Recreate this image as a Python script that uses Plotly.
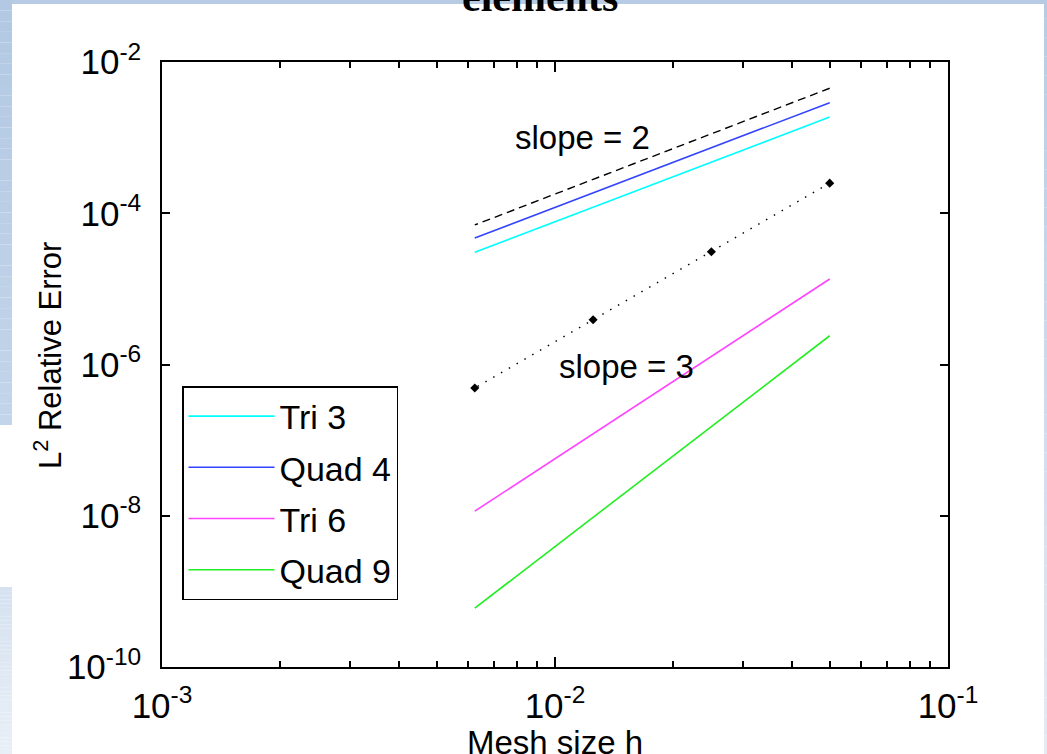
import plotly.graph_objects as go
import numpy as np

# ---- data ----
h = [0.05, 0.025, 0.0125, 0.00625]
ref_slope2 = [4.5e-3, 1.13e-3, 2.8e-4, 7.0e-5]
quad4 = [2.9e-3, 7.3e-4, 1.85e-4, 4.7e-5]
tri3 = [1.87e-3, 4.7e-4, 1.2e-4, 3.05e-5]
ref_slope3 = [2.5e-4, 3.1e-5, 3.9e-6, 4.9e-7]
tri6 = [1.35e-5, 1.28e-6, 1.21e-7, 1.15e-8]
quad9 = [2.4e-6, 1.5e-7, 9.5e-9, 6.0e-10]

x_tickvals = [1e-3, 1e-2, 1e-1]
x_ticktext = ["10<sup>-3</sup>", "10<sup>-2</sup>", "10<sup>-1</sup>"]
y_tickvals = [1e-10, 1e-8, 1e-6, 1e-4, 1e-2]
y_ticktext = ["10<sup>-10</sup>", "10<sup>-8</sup>", "10<sup>-6</sup>", "10<sup>-4</sup>", "10<sup>-2</sup>"]
x_minor = [m * 10.0 ** e for e in (-3, -2) for m in range(2, 10)]

W, H = 1047, 754
L, R, T, B = 162, 99, 62, 87
PW, PH = W - L - R, H - T - B

def px(x):
    return (x - L) / PW

def py(y):
    return (H - B - y) / PH

FONT = "Liberation Sans, Arial, Helvetica, sans-serif"

fig = go.Figure()
# reference lines (not in legend)
fig.add_trace(go.Scatter(x=h, y=ref_slope2, mode="lines", showlegend=False,
                         line=dict(color="black", width=1.4, dash="8px,5px")))
fig.add_trace(go.Scatter(x=h, y=ref_slope3, mode="lines+markers", showlegend=False,
                         line=dict(color="black", width=1.4, dash="1.5px,7.5px"),
                         marker=dict(symbol="diamond", size=7, color="black")))
series = [("Tri 3", tri3, "#00ffff"), ("Quad 4", quad4, "#3344ff"),
          ("Tri 6", tri6, "#ff44ff"), ("Quad 9", quad9, "#22ee22")]
for i, (name, vals, col) in enumerate(series):
    fig.add_trace(go.Scatter(x=h, y=vals, mode="lines", name=name,
                             legendgroup=f"g{i}",
                             line=dict(color=col, width=1.6)))

# background decoration strips (slide background)
shapes = []
def band(x0, x1, y0, y1, c0, c1, n=40):
    cs0 = np.array([int(c0[i:i + 2], 16) for i in (1, 3, 5)])
    cs1 = np.array([int(c1[i:i + 2], 16) for i in (1, 3, 5)])
    for k in range(n):
        t = k / max(n - 1, 1)
        c = (cs0 * (1 - t) + cs1 * t).astype(int)
        ya = y0 + (y1 - y0) * k / n
        yb = y0 + (y1 - y0) * (k + 1) / n
        shapes.append(dict(type="rect", xref="paper", yref="paper", layer="below",
                           x0=px(x0), x1=px(x1), y0=py(ya), y1=py(yb),
                           fillcolor="#%02x%02x%02x" % tuple(c), line=dict(width=0)))
band(0, W, 0, 4, "#b7cce4", "#b7cce4", n=1)
band(0, 12, 0, 425, "#b3c9e3", "#c3d5ea")
band(0, 12, 587, H, "#d6e2f0", "#e9eff7")
band(1044, W, 0, H, "#b7cce4", "#e3ebf5")

axis_common = dict(showline=True, linecolor="black", linewidth=1.5, mirror="ticks",
                   ticks="inside", tickcolor="black", tickwidth=1.5, showgrid=False,
                   zeroline=False, automargin=False,
                   tickfont=dict(family=FONT, size=35, color="black"))

fig.update_layout(
    width=W, height=H,
    margin=dict(l=L, r=R, t=T, b=B, pad=0),
    paper_bgcolor="white", plot_bgcolor="white",
    showlegend=True,
    shapes=shapes,
    xaxis=dict(type="log", range=[-3, -1], tickmode="array", tickvals=x_tickvals,
               ticktext=x_ticktext, ticklen=10, ticklabelstandoff=7,
               minor=dict(tickmode="array", tickvals=x_minor, ticks="inside", ticklen=6,
                          tickcolor="black", tickwidth=1.5, showgrid=False),
               **axis_common),
    yaxis=dict(type="log", range=[-10, -2], tickmode="array", tickvals=y_tickvals,
               ticktext=y_ticktext, ticklen=8, ticklabelstandoff=12,
               **axis_common),
    legend=dict(x=px(182), y=py(386), xanchor="left", yanchor="top",
                bgcolor="white", bordercolor="black", borderwidth=1.5,
                font=dict(family=FONT, size=34, color="black"),
                itemwidth=86, tracegroupgap=4, traceorder="grouped"),
    annotations=[
        dict(text="slope = 2", x=-1.929, y=-2.992, xref="x", yref="y", showarrow=False,
             font=dict(family=FONT, size=33, color="black")),
        dict(text="slope = 3", x=-1.817, y=-6.02, xref="x", yref="y", showarrow=False,
             font=dict(family=FONT, size=33, color="black")),
        dict(text="Mesh size h", x=px(555), y=py(722), xref="paper", yref="paper",
             xanchor="center", yanchor="top", showarrow=False,
             font=dict(family=FONT, size=33, color="black")),
        dict(text="L<sup>2</sup> Relative Error", x=px(48), y=py(356), xref="paper",
             yref="paper", xanchor="center", yanchor="middle", textangle=-90,
             showarrow=False, font=dict(family=FONT, size=31, color="black")),
        dict(text="<b>elements</b>", x=px(540), y=py(13), xref="paper", yref="paper",
             xanchor="center", yanchor="bottom", yshift=-9, showarrow=False,
             font=dict(family="Liberation Serif, Times New Roman, serif", size=42, color="black")),
    ],
)

fig.write_html("out.html")
